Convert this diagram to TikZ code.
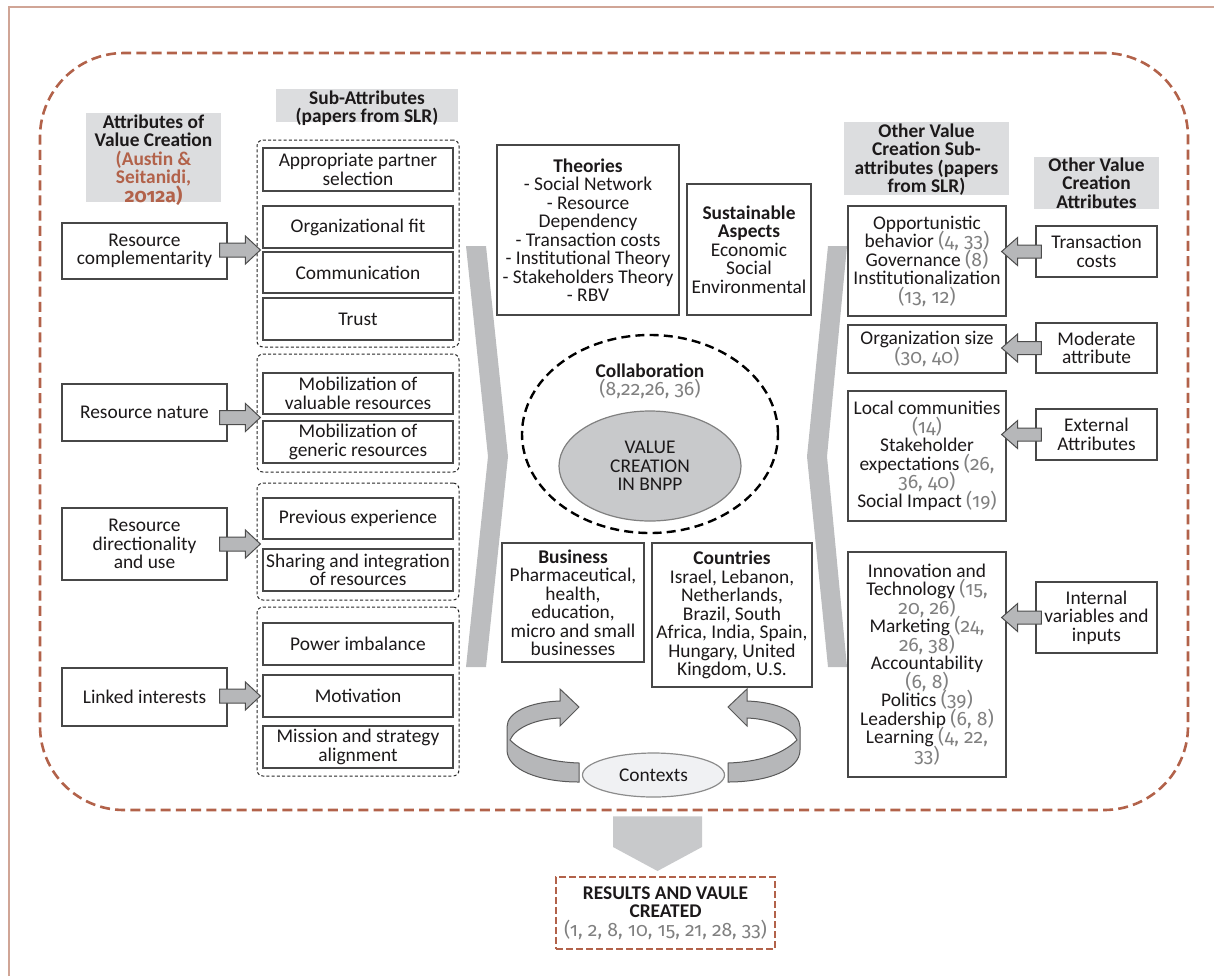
\documentclass[tikz,border=0pt]{standalone}
\usepackage{fontspec}
\setmainfont{Carlito}
\newfontfamily\refnumfont{Fira Sans}[Numbers=OldStyle]
\usetikzlibrary{calc,shapes.geometric}
\definecolor{brownd}{RGB}{178,98,74}
\definecolor{framec}{RGB}{208,165,150}
\definecolor{labgray}{RGB}{220,221,223}
\definecolor{chevgray}{RGB}{188,189,191}
\definecolor{arrgray}{RGB}{182,183,185}
\definecolor{refgray}{RGB}{128,128,128}
\definecolor{txt}{RGB}{28,25,26}
\definecolor{ellgray}{RGB}{200,201,203}
\definecolor{ctxgray}{RGB}{240,241,243}
\newcommand\refn[1]{{\color{refgray}\refnumfont #1}}
\newcommand\dfont{\fontsize{9.7}{9.25}\selectfont\lineskiplimit=-20pt\relax}
\begin{document}
\begin{tikzpicture}[x=0.5pt,y=-0.5pt,
  every node/.append style={font=\dfont, text=txt, inner sep=0pt},
  box/.style={draw=black!72, line width=0.6pt, align=center, fill=white},
  grp/.style={draw=black!85, line width=0.5pt, dash pattern=on 1.5pt off 1.1pt, rounded corners=3pt},
  glab/.style={fill=labgray},
  ltxt/.style={align=center, font=\dfont\bfseries},
  blockR/.style={fill=arrgray, draw=black!70, line width=0.5pt,
    to path={let \p1=(\tikztostart), \p2=(\tikztotarget) in
      (\x1,\y2+3.5pt) -- (\x2-7.5pt,\y2+3.5pt) -- (\x2-7.5pt,\y2+7pt) -- (\x2,\y2)
      -- (\x2-7.5pt,\y2-7pt) -- (\x2-7.5pt,\y2-3.5pt) -- (\x1,\y2-3.5pt) -- cycle}},
  blockL/.style={fill=arrgray, draw=black!70, line width=0.5pt,
    to path={let \p1=(\tikztostart), \p2=(\tikztotarget) in
      (\x1,\y1+3.25pt) -- (\x2+8pt,\y1+3.25pt) -- (\x2+8pt,\y1+7pt) -- (\x2,\y1)
      -- (\x2+8pt,\y1-7pt) -- (\x2+8pt,\y1-3.25pt) -- (\x1,\y1-3.25pt) -- cycle}},
  blockD/.style={fill=ellgray,
    to path={let \p1=(\tikztostart), \p2=(\tikztotarget) in
      (\x2-22.25pt,\y1) -- (\x2+22.25pt,\y1) -- (\x2+22.25pt,\y2+12pt) -- (\x2,\y2)
      -- (\x2-22.25pt,\y2+12pt) -- cycle}},
  cyc/.style={fill=arrgray, draw=black!65, line width=0.5pt}
]
\useasboundingbox (0,0) rectangle (1214,976);
% page frame
\draw[framec, line width=0.9pt] (9,976) -- (9,7) -- (1214,7);
% main dashed frame
\node[draw=brownd, line width=1.3pt, dash pattern=on 5pt off 2.6pt, rounded corners=42pt,
  minimum width=574pt, minimum height=378.5pt] (frame) at (614,431.5) {};

% chevrons
\fill[chevgray] (466,246) -- (486,246) -- (508,456.5) -- (486,667) -- (466,667) -- (488,456.5) -- cycle;
\fill[chevgray] (847,246) -- (828,246) -- (807,456.5) -- (828,667) -- (847,667) -- (827,456.5) -- cycle;

% gray labels
\node[glab, minimum width=67.5pt, minimum height=44.5pt] (lab1) at (153.5,157.5) {};
\node[ltxt] (lab1t) at (153.5,160) {Attributes of\\Value Creation\\{\color{brownd}(Austin \&}\\{\color{brownd}Seitanidi,}\\{\color{brownd}\refnumfont 2012a)}};
\node[glab, minimum width=91pt, minimum height=16.5pt] (lab2) at (367,105.5) {};
\node[ltxt] (lab2t) at (367,108) {Sub-Attributes\\(papers from SLR)};
\node[glab, minimum width=82.5pt, minimum height=36.5pt] (lab3) at (926.5,158.5) {};
\node[ltxt] (lab3t) at (926.5,159.5) {Other Value\\Creation Sub-\\attributes (papers\\from SLR)};
\node[glab, minimum width=62.5pt, minimum height=26pt] (lab4) at (1096.5,183) {};
\node[ltxt] (lab4t) at (1096.5,183) {Other Value\\Creation\\Attributes};

% groups
\node[grp, minimum width=101pt, minimum height=103.5pt] (g1) at (358,243.5) {};
\node[grp, minimum width=101pt, minimum height=59pt] (g2) at (358,413) {};
\node[grp, minimum width=101pt, minimum height=58.5pt] (g3) at (358,541.5) {};
\node[grp, minimum width=101pt, minimum height=84.5pt] (g4) at (358,691.5) {};

% left attribute boxes
\node[box, minimum width=82.5pt, minimum height=28pt] (rc) at (144.5,251) {Resource\\complementarity};
\node[box, minimum width=82.5pt, minimum height=28.5pt] (rn) at (144.5,412.5) {Resource nature};
\node[box, minimum width=82.5pt, minimum height=36pt] (rd) at (144.5,544) {Resource\\directionality\\and use};
\node[box, minimum width=82.5pt, minimum height=29pt] (li) at (144.5,697) {Linked interests};

% sub-attribute boxes
\node[box, minimum width=95pt, minimum height=21.5pt] (aps) at (358,169.5) {Appropriate partner\\selection};
\node[box, minimum width=95pt, minimum height=21pt] (of) at (358,227) {Organizational fit};
\node[box, minimum width=95pt, minimum height=20.5pt] (com) at (358,272.5) {Communication};
\node[box, minimum width=95pt, minimum height=21pt] (tr) at (358,319) {Trust};
\node[box, minimum width=95pt, minimum height=20.5pt] (mv) at (358,393.5) {Mobilization of\\valuable resources};
\node[box, minimum width=95pt, minimum height=21pt] (mg) at (358,442) {Mobilization of\\generic resources};
\node[box, minimum width=95pt, minimum height=20.5pt] (pe) at (358,518.5) {Previous experience};
\node[box, minimum width=95pt, minimum height=21pt] (si) at (358,570) {Sharing and integration\\of resources};
\node[box, minimum width=95pt, minimum height=21pt] (pi) at (358,644) {Power imbalance};
\node[box, minimum width=95pt, minimum height=21pt] (mo) at (358,696) {Motivation};
\node[box, minimum width=95pt, minimum height=21pt] (ms) at (358,747) {Mission and strategy\\alignment};

% left block arrows
\path[blockR] ($(rc.east)+(-8,0)$) to ($(of.south west)!.5!(com.north west)+(-2,0)$);
\path[blockR] ($(rn.east)+(-8,0)$) to ($(mv.south west)!.5!(mg.north west)+(-2,0)$);
\path[blockR] ($(rd.east)+(-8,0)$) to ($(pe.south west)!.5!(si.north west)+(-2,0)$);
\path[blockR] ($(li.east)+(-8,0)$) to ($(mo.west)+(-2,0)$);

% centre boxes
\node[box, minimum width=91pt, minimum height=85pt] (theo) at (588,230) {\textbf{Theories}\\- Social Network\\- Resource\\Dependency\\- Transaction costs\\- Institutional Theory\\- Stakeholders Theory\\- RBV};
\node[box, minimum width=62pt, minimum height=65.5pt] (sust) at (749,249.5) {\textbf{Sustainable}\\\textbf{Aspects}\\Economic\\Social\\Environmental};
\node[box, minimum width=71pt, minimum height=59.5pt] (bus) at (573,602.5) {\textbf{Business}\\Pharmaceutical,\\health,\\education,\\micro and small\\businesses};
\node[box, minimum width=80pt, minimum height=72pt] (cty) at (732,615) {\textbf{Countries}\\Israel, Lebanon,\\Netherlands,\\Brazil, South\\Africa, India, Spain,\\Hungary, United\\Kingdom, U.S.};

% collaboration
\node[ellipse, draw=black, line width=1.2pt, dash pattern=on 4.5pt off 2.6pt, minimum width=128pt, minimum height=99pt] (collab) at (650,434) {};
\node[align=center] (colt) at (650,381.5) {\textbf{Collaboration}\\\refn{(8,22,26, 36)}};
\node[ellipse, draw=black!50, fill=ellgray, line width=0.6pt, align=center, minimum width=91pt, minimum height=55pt] (vc) at (650,466) {VALUE\\CREATION\\IN BNPP};

% contexts and loop arrows
\filldraw[cyc] (579,782) .. controls (540,782) and (507,770) .. (507,750) -- (507,727)
  .. controls (507,712) and (530,702) .. (560,701) -- (560,689) -- (579,707) -- (560,726) -- (560,718)
  .. controls (535,719) and (515,728) .. (510,740) .. controls (525,755) and (550,762) .. (579,763) -- cycle;
\filldraw[cyc] (728,782) .. controls (767,782) and (800,770) .. (800,750) -- (800,727)
  .. controls (800,712) and (777,702) .. (747,701) -- (747,689) -- (728,707) -- (747,726) -- (747,718)
  .. controls (772,719) and (792,728) .. (797,740) .. controls (782,755) and (757,762) .. (728,763) -- cycle;
\node[ellipse, draw=black!45, fill=ctxgray, line width=0.6pt, minimum width=71pt, minimum height=22pt] (ctx) at (653.5,775) {Contexts};

% right sub-attribute boxes
\node[box, minimum width=79pt, minimum height=55pt] (ra) at (927,261) {Opportunistic\\behavior \refn{(4, 33)}\\Governance \refn{(8)}\\Institutionalization\\\refn{(13, 12)}};
\node[box, minimum width=79pt, minimum height=24pt] (rb) at (927,349) {Organization size\\\refn{(30, 40)}};
\node[box, minimum width=79pt, minimum height=65pt] (rcc) at (927,456) {Local communities\\\refn{(14)}\\Stakeholder\\expectations \refn{(26,}\\\refn{36, 40)}\\Social Impact \refn{(19)}};
\node[box, minimum width=79pt, minimum height=112.5pt] (rdd) at (927,664.5) {Innovation and\\Technology \refn{(15,}\\\refn{20, 26)}\\Marketing \refn{(24,}\\\refn{26, 38)}\\Accountability\\\refn{(6, 8)}\\Politics \refn{(39)}\\Leadership \refn{(6, 8)}\\Learning \refn{(4, 22,}\\\refn{33)}};

% right attribute boxes
\node[box, minimum width=60.5pt, minimum height=25.5pt] (tc) at (1096.5,251.5) {Transaction\\costs};
\node[box, minimum width=60.5pt, minimum height=25pt] (ma) at (1096.5,348) {Moderate\\attribute};
\node[box, minimum width=60.5pt, minimum height=25.5pt] (ea) at (1096.5,434.5) {External\\Attributes};
\node[box, minimum width=60.5pt, minimum height=35.5pt] (iv) at (1096.5,617.5) {Internal\\variables and\\inputs};

% right block arrows
\path[blockL] ($(tc.west)+(6,0)$) to ($(ra.east)+(-5,0)$);
\path[blockL] ($(ma.west)+(6,0)$) to ($(rb.east)+(-5,0)$);
\path[blockL] ($(ea.west)+(6,0)$) to ($(rcc.east)+(-5,0)$);
\path[blockL] ($(iv.west)+(6,0)$) to ($(rdd.east)+(-5,0)$);

% results
\node[draw=brownd, line width=1pt, dash pattern=on 3.3pt off 1.7pt, align=center, minimum width=109.5pt, minimum height=36pt] (res) at (665.5,913) {\textbf{RESULTS AND VAULE}\\\textbf{CREATED}\\\refn{(1, 2, 8, 10, 15, 21, 28, 33)}};
\path[blockD] ($(frame.south)+(43.5,5)$) to ($(res.north)+(-8,-5)$);
\end{tikzpicture}
\end{document}
